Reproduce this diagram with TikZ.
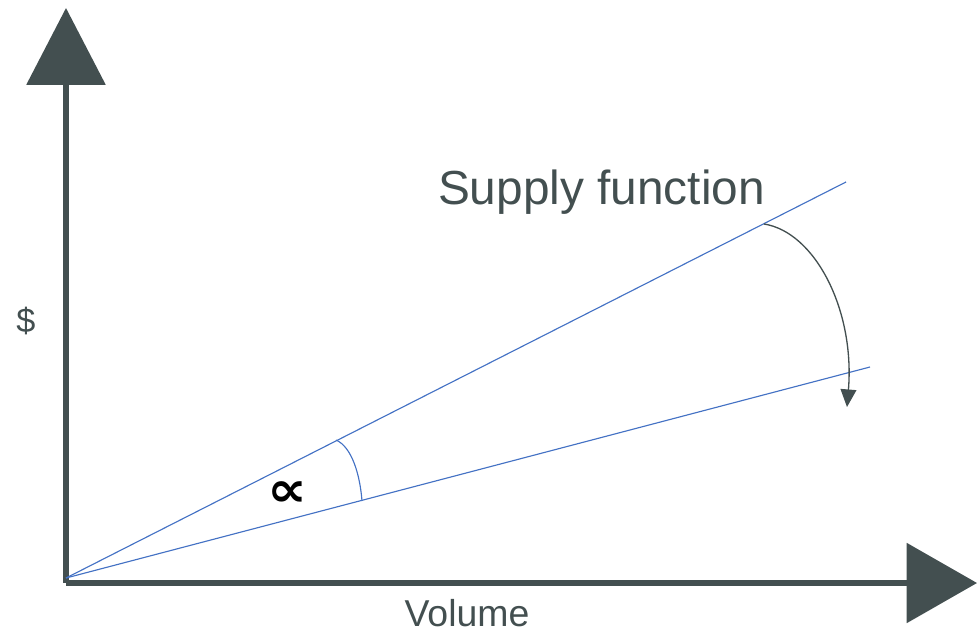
\documentclass[tikz,border=0pt]{standalone}
\usepackage{fontspec}
\setmainfont{Liberation Sans}
\newfontfamily\symfont{DejaVu Sans}
\usetikzlibrary{arrows.meta}
\definecolor{axisgrey}{HTML}{434F50}
\definecolor{lineblue}{HTML}{4472C4}
\tikzset{
  axis/.style={axisgrey,line width=2.9pt},
  supply/.style={lineblue,line width=0.65pt},
  label/.style={text=axisgrey,inner sep=0pt,anchor=base},
}
\begin{document}
\begin{tikzpicture}[x=0.02cm,y=-0.02cm]
\useasboundingbox (0,0) rectangle (977,632);
\coordinate (origin) at (66,583);
\coordinate (ytip) at (66,8);
\coordinate (xtip) at (977,583);
\coordinate (base) at (66,578);
\coordinate (upper) at (846,182);
\coordinate (lower) at (870,367);
\coordinate (turnstart) at (764,224);
\coordinate (turnend) at (847,407);
\coordinate (arcstart) at (336,440);
\coordinate (arcend) at (362,501);
% axes
\draw[axis,-{Triangle[length=43.7pt,width=44.5pt]}] (origin) -- (ytip);
\draw[axis,-{Triangle[length=40pt,width=45pt]}] (origin) -- (xtip);
% supply lines
\draw[supply] (base) -- (upper);
\draw[supply] (base) -- (lower);
\draw[supply] (arcstart) .. controls (352,447) and (360,475) .. (arcend);
\draw[axisgrey,line width=0.75pt,-{Triangle[length=10pt,width=9pt]}]
(turnstart) .. controls (815,232) and (855,310) .. (turnend);
% labels
\node[label,font=\fontsize{27.2pt}{30pt}\selectfont] (title) at (601.5,204) {Supply function};
\node[label,font=\fontsize{19.5pt}{22pt}\selectfont] (dollar) at (26,332) {\$};
\node[label,font=\fontsize{21.3pt}{24pt}\selectfont] (volume) at (467,626) {Volume};
\node[inner sep=0pt,font=\symfont\bfseries\fontsize{28pt}{30pt}\selectfont] (angle) at (287,494) {\scalebox{1.14}[1]{∝}};
\end{tikzpicture}
\end{document}
